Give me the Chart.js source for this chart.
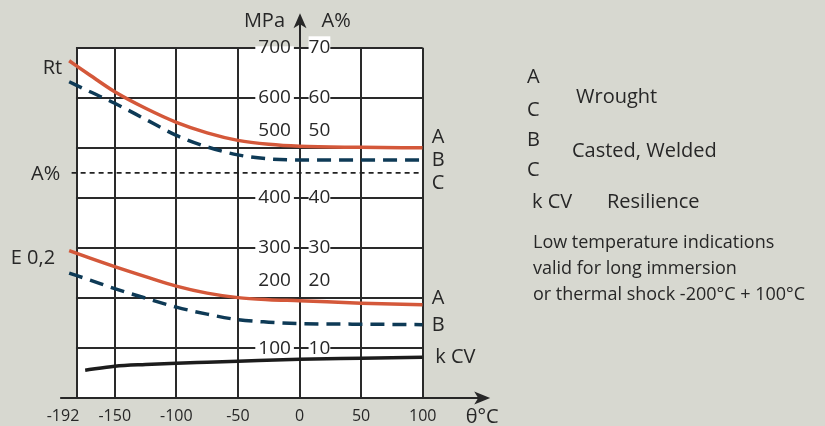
<!DOCTYPE html>
<html>
<head>
<meta charset="utf-8">
<script src="https://cdn.jsdelivr.net/npm/chart.js@4.4.1/dist/chart.umd.min.js"></script>
<style>
  body { margin: 0; background: #d7d8d0; }
  #wrap { position: relative; width: 825px; height: 426px; font-family: 'Open Sans', sans-serif; color: #272727; }
  #chart { position: absolute; left: 0; top: 0; }
  .txt { position: absolute; white-space: nowrap; line-height: 24px; height: 24px; }
  .big { font-size: 20px; }
  .small { font-size: 18px; }
</style>
</head>
<body>
<div id="wrap">
  <canvas id="chart" width="825" height="426"></canvas>
  <div class="txt big" style="left:527px;top:64px">A</div>
  <div class="txt big" style="left:527px;top:97px">C</div>
  <div class="txt big" style="left:576px;top:84px">Wrought</div>
  <div class="txt big" style="left:527px;top:127px">B</div>
  <div class="txt big" style="left:527px;top:157px">C</div>
  <div class="txt big" style="left:572px;top:138px">Casted, Welded</div>
  <div class="txt big" style="left:532px;top:189px">k CV</div>
  <div class="txt big" style="left:607px;top:189px">Resilience</div>
  <div class="txt small" style="left:533px;top:229px">Low temperature indications</div>
  <div class="txt small" style="left:533px;top:255px">valid for long immersion</div>
  <div class="txt small" style="left:533px;top:281px">or thermal shock -200°C + 100°C</div>
</div>
<script>
'use strict';
const tempTicks = [-192, -150, -100, -50, 0, 50, 100];
const mpaTicks = [0, 100, 200, 300, 400, 500, 600, 700];
const pctTicks = [0, 10, 20, 30, 40, 50, 60, 70];
const boxLeft = -180.5; // white panel starts a little right of -192

// Rt and E 0,2 curves
const curveTemps = [-187, -170, -150, -125, -100, -75, -50, -25, 0, 50, 100];
const rtWrought = [674, 645, 612, 579, 551, 530, 515, 507, 503, 501, 500];
const rtCast = [632, 612, 589, 557, 525, 502, 486, 478, 476, 476, 476];
const e02Wrought = [295, 280, 263, 243, 224, 210, 201, 197, 195, 190, 187];
const e02Cast = [250, 236, 219, 200, 182, 168, 157, 152, 149, 148, 147];
// resilience
const kcvTemps = [-174, -150, -125, -100, -75, -50, 0, 50, 100];
const kcvValues = [56, 64, 67.5, 70, 72, 74, 78, 80, 82];
// A% (C line)
const elongTemps = [-185, 98];
const elongValues = [45, 45];

const bg = '#d7d8d0';
const ink = '#272727';
const gridColor = '#2a2a2a';
const orange = '#d4583a';
const navy = '#0e3a56';
const family = "'Open Sans', sans-serif";
const clear = 'rgba(0,0,0,0)';

function points(xs, ys) {
  return xs.map((x, i) => ({x: x, y: ys[i]}));
}
function tickValue(c) { return c && c.tick ? c.tick.value : null; }
function raisedMpa(v) { return v === 500 || v === 200; }
function raisedPct(v) { return v === 50 || v === 20; }

const decorations = {
  id: 'decorations',
  beforeDraw(chart) {
    const {ctx, chartArea, scales} = chart;
    const left = scales.x.getPixelForValue(boxLeft);
    ctx.save();
    ctx.fillStyle = '#ffffff';
    ctx.fillRect(left, chartArea.top, chartArea.right - left, chartArea.bottom - chartArea.top);
    ctx.restore();
  },
  beforeDatasetsDraw(chart) {
    const {ctx, chartArea, scales} = chart;
    const left = scales.x.getPixelForValue(boxLeft);
    const x0 = Math.round(scales.x.getPixelForValue(0) - 1) + 1;
    const y0 = Math.round(scales.y.getPixelForValue(0) - 1) + 1;
    ctx.save();
    // hide grid stubs left of the panel
    ctx.fillStyle = bg;
    ctx.fillRect(0, chartArea.top - 3, left - 1.2, chartArea.bottom - chartArea.top + 1.5);
    // axes with arrows
    ctx.strokeStyle = ink;
    ctx.fillStyle = ink;
    ctx.lineWidth = 2;
    ctx.beginPath();
    ctx.moveTo(left - 17, y0);
    ctx.lineTo(chartArea.right + 58, y0);
    ctx.moveTo(x0, chartArea.top);
    ctx.lineTo(x0, chartArea.top - 25);
    ctx.stroke();
    const ax = chartArea.right + 67.5;
    ctx.beginPath();
    ctx.moveTo(ax, y0);
    ctx.lineTo(ax - 16, y0 - 6.5);
    ctx.lineTo(ax - 12, y0);
    ctx.lineTo(ax - 16, y0 + 6.5);
    ctx.closePath();
    ctx.fill();
    const ay = chartArea.top - 34.5;
    ctx.beginPath();
    ctx.moveTo(x0, ay);
    ctx.lineTo(x0 - 6.5, ay + 15);
    ctx.lineTo(x0, ay + 11);
    ctx.lineTo(x0 + 6.5, ay + 15);
    ctx.closePath();
    ctx.fill();
    ctx.restore();
  },
  afterDraw(chart) {
    const {ctx, chartArea, scales} = chart;
    const x = scales.x, y = scales.y, y2 = scales.y2;
    const left = x.getPixelForValue(boxLeft);
    const x0 = x.getPixelForValue(0);
    const right = chartArea.right;
    const last = a => a[a.length - 1];
    const tags = [
      ['MPa', x0 - 14.5, chartArea.top - 26, 'right'],
      ['A%', x0 + 22, chartArea.top - 26, 'left'],
      ['Rt', left - 15, y.getPixelForValue(rtWrought[0]) + 7.5, 'right'],
      ['A%', left - 17, y2.getPixelForValue(elongValues[0]) + 1.5, 'right'],
      ['E 0,2', left - 22, y.getPixelForValue(e02Wrought[0]) + 7.6, 'right'],
      ['A', right + 9, y.getPixelForValue(last(rtWrought)) - 11, 'left'],
      ['B', right + 9, y.getPixelForValue(last(rtCast)), 'left'],
      ['C', right + 9, y2.getPixelForValue(last(elongValues)) + 10, 'left'],
      ['A', right + 9, y.getPixelForValue(last(e02Wrought)) - 6.5, 'left'],
      ['B', right + 9, y.getPixelForValue(last(e02Cast)) + 0.5, 'left'],
      ['k CV', right + 12.5, y.getPixelForValue(last(kcvValues)), 'left'],
      ['θ°C', right + 43, y.getPixelForValue(0) + 19, 'left']
    ];
    ctx.save();
    ctx.fillStyle = ink;
    ctx.font = '20px ' + family;
    ctx.textBaseline = 'middle';
    tags.forEach(t => {
      ctx.textAlign = t[3];
      ctx.fillText(t[0], t[1], t[2]);
    });
    ctx.restore();
  }
};

const ctx = document.getElementById('chart').getContext('2d');
const chart = new Chart(ctx, {
  type: 'line',
  data: {
    datasets: [
      {label: 'Rt wrought', data: points(curveTemps, rtWrought), borderColor: orange, borderWidth: 3.5},
      {label: 'Rt casted', data: points(curveTemps, rtCast), borderColor: navy, borderWidth: 3.5, borderDash: [14, 8]},
      {label: 'E 0,2 wrought', data: points(curveTemps, e02Wrought), borderColor: orange, borderWidth: 3.5},
      {label: 'E 0,2 casted', data: points(curveTemps, e02Cast), borderColor: navy, borderWidth: 3.5, borderDash: [14, 8]},
      {label: 'k CV', data: points(kcvTemps, kcvValues), borderColor: '#1c1c1c', borderWidth: 3.5},
      {label: 'A%', data: points(elongTemps, elongValues), borderColor: '#222222', borderWidth: 1.6, borderDash: [5, 4], yAxisID: 'y2'}
    ]
  },
  options: {
    responsive: false,
    animation: false,
    devicePixelRatio: 1,
    layout: {padding: {left: 63, right: 402.3, top: 47.7, bottom: 0}},
    plugins: {legend: {display: false}, tooltip: {enabled: false}},
    elements: {
      point: {radius: 0},
      line: {cubicInterpolationMode: 'monotone', fill: false, borderCapStyle: 'butt'}
    },
    scales: {
      x: {
        type: 'linear',
        min: -192,
        max: 100,
        afterBuildTicks: s => { s.ticks = tempTicks.concat([boxLeft]).sort((a, b) => a - b).map(v => ({value: v})); },
        afterFit: s => { s.height = 27.7; },
        grid: {
          z: -1, drawTicks: false, lineWidth: 2,
          color: c => tickValue(c) === -192 ? clear : gridColor
        },
        border: {display: false},
        ticks: {
          autoSkip: false, maxRotation: 0, padding: 9, color: ink,
          font: {family: family, size: 16},
          callback: v => v === boxLeft ? '' : String(v)
        }
      },
      y: {
        type: 'linear',
        min: 0,
        max: 700,
        position: {x: -7},
        afterBuildTicks: s => { s.ticks = mpaTicks.map(v => ({value: v})); },
        grid: {z: -1, drawTicks: false, lineWidth: 2, color: gridColor},
        border: {display: false},
        ticks: {
          autoSkip: false, padding: 0, color: ink,
          font: c => ({family: family, size: 19, lineHeight: raisedMpa(tickValue(c)) ? 1.8 : 1.2}),
          callback: v => v === 0 ? '' : (raisedMpa(v) ? [String(v), ''] : String(v)),
          showLabelBackdrop: true,
          backdropColor: c => (tickValue(c) === 0 || raisedMpa(tickValue(c))) ? clear : '#ffffff',
          backdropPadding: {top: -10, bottom: -10, left: 3, right: 3}
        }
      },
      y2: {
        type: 'linear',
        min: 0,
        max: 70,
        position: {x: 25},
        afterBuildTicks: s => { s.ticks = pctTicks.map(v => ({value: v})); },
        grid: {display: false, drawTicks: false},
        border: {display: false},
        ticks: {
          autoSkip: false, padding: 0, color: ink,
          font: c => ({family: family, size: 19, lineHeight: raisedPct(tickValue(c)) ? 1.8 : 1.2}),
          callback: v => v === 0 ? '' : (raisedPct(v) ? [String(v), ''] : String(v)),
          showLabelBackdrop: true,
          backdropColor: c => (tickValue(c) === 0 || raisedPct(tickValue(c))) ? clear : '#ffffff',
          backdropPadding: c => ({top: -10, bottom: -10, left: 2, right: tickValue(c) === 70 ? 17 : 6})
        }
      }
    }
  },
  plugins: [decorations]
});
</script>
</body>
</html>
